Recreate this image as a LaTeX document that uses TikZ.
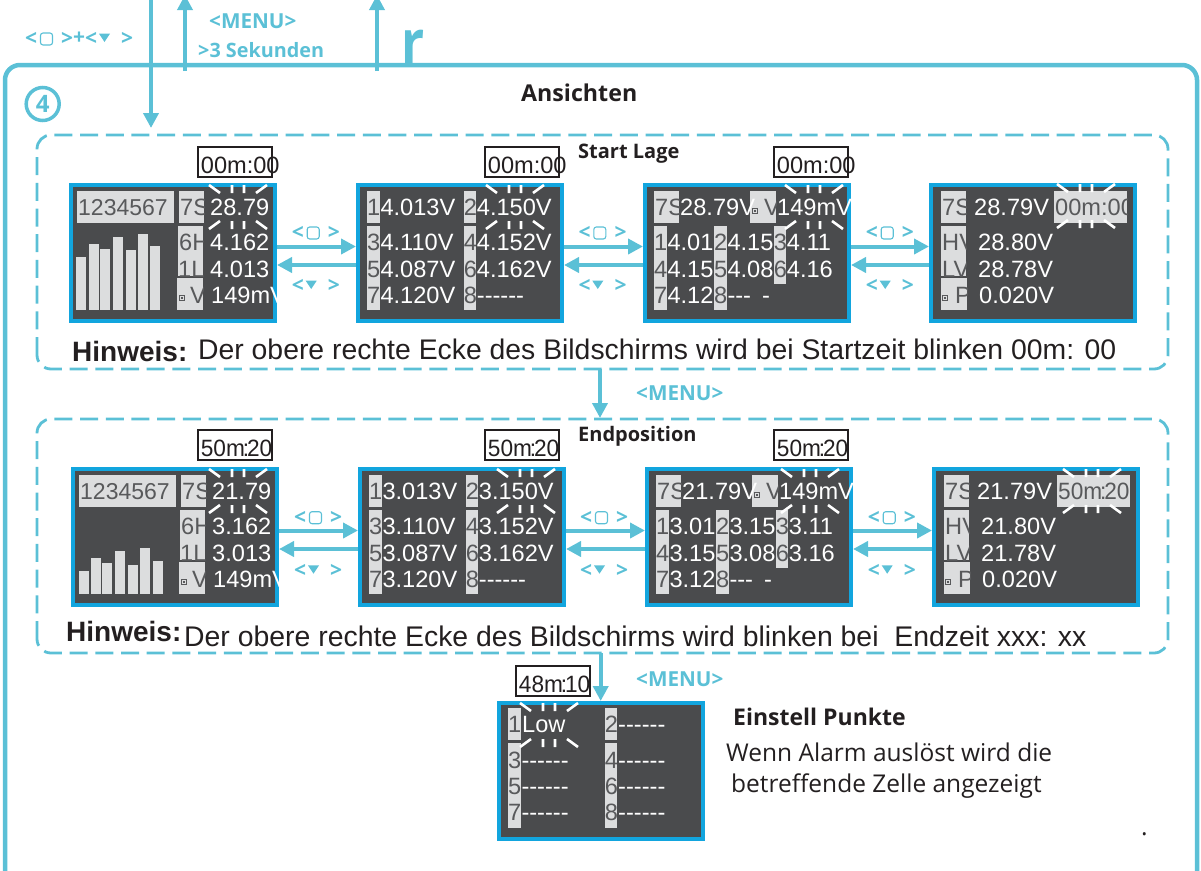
\documentclass[tikz,border=0pt]{standalone}
\usepackage{fontspec}
\usetikzlibrary{arrows.meta}
\newfontfamily\lcdf{Liberation Sans}
\newfontfamily\opn{Open Sans}
\definecolor{teal}{HTML}{5BC0D6}
\definecolor{lcdbg}{HTML}{4A4B4D}
\definecolor{lcdedge}{HTML}{12A5DE}
\definecolor{lcdgray}{HTML}{DCDDDE}
\definecolor{lcddark}{HTML}{58595B}
\definecolor{ink}{HTML}{231F20}
\newcount\nn
\tikzset{
  x=1pt,y=-1pt,
  screen/.style={draw=lcdedge,fill=lcdbg,line width=4pt,outer sep=2pt,inner sep=0pt,anchor=north west},
  lcdw/.style={text=white,inner sep=0pt,anchor=base west,font=\lcdf\fontsize{23.6}{24}\selectfont},
  lcdd/.style={text=lcddark,inner sep=0pt,anchor=base west,font=\lcdf\fontsize{23.6}{24}\selectfont},
  timetxt/.style={text=ink,inner sep=0pt,anchor=base west,font=\lcdf\fontsize{23.6}{24}\selectfont},
  timebox/.style={draw=ink,fill=white,line width=1.4pt,inner sep=0pt,outer sep=0pt,anchor=north west,minimum width=74pt,minimum height=30pt},
  flow/.style={draw=teal,line width=4pt,-{Triangle[length=15pt,width=15pt]}},
  plain/.style={inner sep=0pt,anchor=base west},
  keytxt/.style={text=teal,inner sep=0pt,font=\opn\bfseries\fontsize{21}{21}\selectfont},
  menutxt/.style={text=teal,inner sep=0pt,anchor=base west,font=\opn\bfseries\fontsize{20.7}{21}\selectfont},
  hdr/.style={text=ink,inner sep=0pt,anchor=base west,font=\opn\bfseries},
  dframe/.style={draw=teal,line width=2.8pt,rounded corners=14pt,dash pattern=on 18pt off 7.7pt},
}
\newcommand\gb[4]{\fill[lcdgray] (#1,#2) rectangle (#3,#4);}
\newcommand\wt[3]{\global\advance\nn by 1 \node[lcdw] (n\the\nn) at (#1,#2) {#3};}
\newcommand\dk[3]{\global\advance\nn by 1 \node[lcdd] (n\the\nn) at (#1,#2) {#3};}
\newcommand\dkc[4]{\begin{scope}\clip (#1-4,#2-30) rectangle (#3,#2+10);\global\advance\nn by 1 \node[lcdd] (n\the\nn) at (#1,#2) {#4};\end{scope}}
\newcommand\wtc[4]{\begin{scope}\clip (#1-4,#2-30) rectangle (#3,#2+10);\global\advance\nn by 1 \node[lcdw] (n\the\nn) at (#1,#2) {#4};\end{scope}}
\newcommand\spk[2]{\begin{scope}[shift={(#1,#2)}]
  \draw[white,line width=2.6pt]
   (-29,2)--(-18,10) (-6,2)--(-6,10) (6,2)--(6,10) (29,2)--(18,10)
   (-29,46)--(-18,38) (-6,38)--(-6,46) (6,38)--(6,46) (29,46)--(18,38);
  \end{scope}}
\newcommand\ico[2]{\draw[lcddark,line width=.5pt] (#1,#2) rectangle +(5.5,5.5);\fill[lcddark] (#1+1.7,#2+1.7) rectangle +(2.2,2.2);}
\newcommand\cellsB[7]{%
 \gb{11}{8}{24}{40}\gb{108}{8}{120}{40}\gb{11}{43}{24}{127}\gb{108}{43}{120}{127}
 \dk{11}{32}{1}\dk{107.6}{32}{2}\dk{11}{67}{3}\dk{107.6}{67}{4}\dk{11}{94}{5}\dk{107.6}{94}{6}\dk{11}{120}{7}\dk{107.6}{120}{8}
 \wt{24.3}{32}{#1}\wt{120.7}{32}{#2}\wt{24.3}{67}{#3}\wt{120.7}{67}{#4}\wt{24.3}{94}{#5}\wt{120.7}{94}{#6}\wt{24.3}{120}{#7}\wt{120.7}{120}{------}}
\newcommand\cellsC[8]{%
 \gb{11}{8}{36}{40}\gb{107}{8}{133}{40}\gb{11}{43}{24}{127}\gb{71}{43}{84}{127}\gb{131}{43}{143}{101}
 \dkc{12}{32}{36}{7S}\ico{109}{25}\dkc{121}{32}{133}{V}
 \wt{37}{32}{#1}\wtc{134}{32}{212}{149mV}
 \dk{11}{67}{1}\dk{71}{67}{2}\dk{130.6}{67}{3}\dk{11}{94}{4}\dk{71}{94}{5}\dk{130.6}{94}{6}\dk{11}{120}{7}\dk{71}{120}{8}
 \wt{24.3}{67}{#2}\wt{84.3}{67}{#3}\wt{143.7}{67}{#4}\wt{24.3}{94}{#5}\wt{84.3}{94}{#6}\wt{143.7}{94}{#7}\wt{24.3}{120}{#8}\wt{84.3}{120}{---}\wt{119}{120}{-}}
\newcommand\cellsA[4]{%
 \gb{7}{8}{104}{40}\gb{109}{8}{134}{40}\gb{108}{43}{133}{93}\gb{107}{95}{133}{127}
 \dk{8}{32}{\fontsize{23}{24}\selectfont 1234567}\dkc{110}{32}{134}{7S}\dkc{109}{67}{133}{6H}\dkc{108}{94}{133}{1L}\ico{109}{112}\dkc{120}{120}{133}{V}
 \wt{140}{32}{#1}\wt{140}{67}{#2}\wt{140}{94}{#3}\wtc{141}{120}{210}{149mV}}
\newcommand\cellsD[5]{%
 \gb{12}{8}{37}{40}\gb{12}{43}{37}{93}\gb{12}{95}{38}{127}\gb{125}{8}{198}{40}
 \dkc{13}{32}{37}{7S}\dkc{13}{67}{37}{HV}\dkc{13}{94}{37}{LV}\ico{13}{112}\dkc{26}{120}{38}{P}
 \wt{45}{32}{#1}\dkc{126}{32}{198}{#2}\wt{49}{67}{#3}\wt{49}{94}{#4}\wt{50}{120}{0.020V}}
\newcommand\keyA[2]{\begin{scope}[shift={(#1,#2)}]
  \global\advance\nn by 1 \node[keytxt,anchor=west] (n\the\nn) at (-1,0) {<};
  \draw[teal,line width=1.1pt,rounded corners=2.5pt] (14.5,-6) rectangle (26.5,6);
  \global\advance\nn by 1 \node[keytxt,anchor=west] (n\the\nn) at (35,0) {>};
  \end{scope}}
\newcommand\keyB[2]{\begin{scope}[shift={(#1,#2)}]
  \global\advance\nn by 1 \node[keytxt,anchor=west] (n\the\nn) at (-1,0) {<};
  \fill[teal] (13,-5.3) -- (24,-5.3) -- (18.5,3) -- cycle;
  \global\advance\nn by 1 \node[keytxt,anchor=west] (n\the\nn) at (35,0) {>};
  \end{scope}}
\newcommand\scr[3]{\node[screen,minimum width=204pt,minimum height=136pt] (#1) at (#2,#3) {};}
\newcommand\tbox[4]{\node[timebox] (#1) at (#2,#3) {};\global\advance\nn by 1 \node[timetxt] (n\the\nn) at (#2+2.7,#3+26) {#4};}
\newcommand\tight[2]{\scalebox{.96}[1]{#1\kern-2.2pt:\kern-2.2pt#2}}
\begin{document}
\begin{tikzpicture}
\useasboundingbox (0,0) rectangle (1201,870);
\clip (0,0) rectangle (1201,870);
\draw[teal,line width=4.5pt,rounded corners=15pt] (5,890) -- (5,65) -- (1197,65) -- (1197,890);
\coordinate (dnstart) at (151,-2);
\coordinate (dnend) at (151,128);
\draw[flow] (dnstart) -- (dnend);
\coordinate (upa0) at (185,71);
\coordinate (upa1) at (185,-5);
\draw[flow,line width=3.5pt] (upa0) -- (upa1);
\coordinate (upb0) at (377,71);
\coordinate (upb1) at (377,-5);
\draw[flow,line width=3.5pt] (upb0) -- (upb1);
\keyA{26}{39}
\node[keytxt,anchor=west] (plus) at (73,38) {+};
\keyB{86}{39}
\node[menutxt] (menu0) at (209,28) {<MENU>};
\node[menutxt,font=\opn\bfseries\fontsize{19.8}{20}\selectfont] (sek) at (198,57) {>3 Sekunden};
\node[text=teal,inner sep=0pt,anchor=base west,font=\opn\bfseries\fontsize{60}{60}\selectfont] (rr) at (401,63) {\scalebox{.85}[1]{r}};
\node[draw=teal,line width=3.5pt,circle,minimum size=33pt,inner sep=0pt,text=teal,font=\opn\bfseries\fontsize{24}{24}\selectfont] (four) at (42.7,104) {4};
\node[hdr,font=\opn\bfseries\fontsize{23.2}{24}\selectfont] (ans) at (521,101) {Ansichten};
\draw[dframe] (37,369) rectangle (1168,135);
\draw[dframe] (37,653) rectangle (1168,419);
\node[hdr,font=\opn\bfseries\fontsize{20}{20}\selectfont] (start) at (578,158) {Start Lage};
\node[hdr,font=\opn\bfseries\fontsize{20}{20}\selectfont] (endp) at (578,441) {Endposition};
\scr{sa}{69}{183}\scr{sb}{356}{183}\scr{sc}{643}{183}\scr{sd}{929}{183}
\foreach \xa/\xb/\t in {76/86/257,89/99/244,100/110/249,113/123/237,126/136/250,138/148/234,150/160/246}
  \fill[lcdgray] (\xa,\t) rectangle (\xb,310);
\begin{scope}[shift={(70,183)}]\cellsA{28.79}{4.162}{4.013}{}\spk{168}{0}\end{scope}
\begin{scope}[shift={(356,183)}]\cellsB{4.013V}{4.150V}{4.110V}{4.152V}{4.087V}{4.162V}{4.120V}\spk{159}{0}\end{scope}
\begin{scope}[shift={(643,183)}]\cellsC{28.79V}{4.01}{4.15}{4.11}{4.15}{4.08}{4.16}{4.12}\spk{171}{0}\end{scope}
\begin{scope}[shift={(929,183)}]\cellsD{28.79V}{00m:00}{28.80V}{28.78V}{}\spk{157}{-1}\end{scope}
\tbox{ta}{198}{147}{00m:00}\tbox{tb}{485}{147}{00m:00}\tbox{tc}{774}{147}{00m:00}
\foreach \a/\b in {sa/sb,sb/sc,sc/sd}{
  \draw[flow] ([yshift=6.5pt]\a.east) -- ([yshift=6.5pt]\b.west);
  \draw[flow] ([yshift=-12pt]\b.west) -- ([yshift=-12pt]\a.east);
}
\keyA{292.7}{233}\keyA{579.3}{233}\keyA{866.7}{233}
\keyB{292.7}{286}\keyB{579.3}{286}\keyB{866.7}{286}
\node[plain,text=ink,font=\lcdf\bfseries\fontsize{28}{28}\selectfont] (h1) at (72,361) {Hinweis:};
\node[plain,text=ink,font=\lcdf\fontsize{28.35}{29}\selectfont] (h1t) at (198,359) {Der obere rechte Ecke des Bildschirms wird bei Startzeit blinken 00m: 00};
\coordinate (ga) at (600,369);\coordinate (gb) at (600,418);
\draw[flow] (ga) -- (gb);
\node[menutxt] (menu1) at (636,400) {<MENU>};
\scr{ra}{71}{467}\scr{rb}{358}{467}\scr{rc}{645}{467}\scr{rd}{932}{467}
\foreach \xa/\xb/\t in {79/89/571,91/101/558,102/112/563,115/125/551,128/138/565,140/150/548,153/163/561}
  \fill[lcdgray] (\xa,\t) rectangle (\xb,594);
\begin{scope}[shift={(72,467)}]\cellsA{21.79}{3.162}{3.013}{}\spk{166}{0}\end{scope}
\begin{scope}[shift={(358,467)}]\cellsB{3.013V}{3.150V}{3.110V}{3.152V}{3.087V}{3.162V}{3.120V}\spk{168}{0}\end{scope}
\begin{scope}[shift={(645,467)}]\cellsC{21.79V}{3.01}{3.15}{3.11}{3.15}{3.08}{3.16}{3.12}\spk{165}{0}\end{scope}
\begin{scope}[shift={(932,467)}]\cellsD{21.79V}{\tight{50m}{20}}{21.80V}{21.78V}{}\spk{160}{0}\end{scope}
\tbox{ua}{198}{430}{\tight{50m}{20}}\tbox{ub}{485}{430}{\tight{50m}{20}}\tbox{uc}{774}{430}{\tight{50m}{20}}
\foreach \a/\b in {ra/rb,rb/rc,rc/rd}{
  \draw[flow] ([yshift=6.5pt]\a.east) -- ([yshift=6.5pt]\b.west);
  \draw[flow] ([yshift=-12pt]\b.west) -- ([yshift=-12pt]\a.east);
}
\keyA{295}{517.7}\keyA{581}{517.7}\keyA{868.7}{517.7}
\keyB{295}{570.7}\keyB{581}{570.7}\keyB{868.7}{570.7}
\node[plain,text=ink,font=\lcdf\bfseries\fontsize{28}{28}\selectfont] (h2) at (66,641) {Hinweis:};
\node[plain,text=ink,font=\lcdf\fontsize{28.4}{29}\selectfont] (h2t) at (184,646) {Der obere rechte Ecke des Bildschirms wird blinken bei \ Endzeit xxx: xx};
\scr{se}{497}{701}
\coordinate (gc) at (600.7,653);
\draw[flow] (gc) -- (se.north -| gc);
\node[menutxt] (menu2) at (636,686) {<MENU>};
\begin{scope}[shift={(497,701)}]
 \gb{11}{7}{24}{39}\gb{11}{42}{24}{127}\gb{108}{7}{120}{39}\gb{108}{42}{120}{127}
 \dk{11}{31}{1}\wt{25}{31}{Low}\dk{107.6}{31}{2}\wt{121}{31}{------}
 \dk{11}{67}{3}\wt{24.3}{67}{------}\dk{107.6}{67}{4}\wt{121}{67}{------}
 \dk{11}{93}{5}\wt{24.3}{93}{------}\dk{107.6}{93}{6}\wt{121}{93}{------}
 \dk{11}{119}{7}\wt{24.3}{119}{------}\dk{107.6}{119}{8}\wt{121}{119}{------}
 \spk{52}{0}
\end{scope}
\tbox{te}{516}{666}{\tight{48m}{10}}
\node[hdr,font=\opn\bfseries\fontsize{23}{23}\selectfont] (ein) at (733,725) {Einstell Punkte};
\node[plain,text=ink,font=\opn\fontsize{24.5}{25}\selectfont] (w1) at (726,761) {Wenn Alarm auslöst wird die};
\node[plain,text=ink,font=\opn\fontsize{24.5}{25}\selectfont] (w2) at (731,792) {betreffende Zelle angezeigt};
\node[plain,text=ink,font=\opn\fontsize{24.5}{25}\selectfont] (dot) at (1141,835) {.};
\end{tikzpicture}
\end{document}
